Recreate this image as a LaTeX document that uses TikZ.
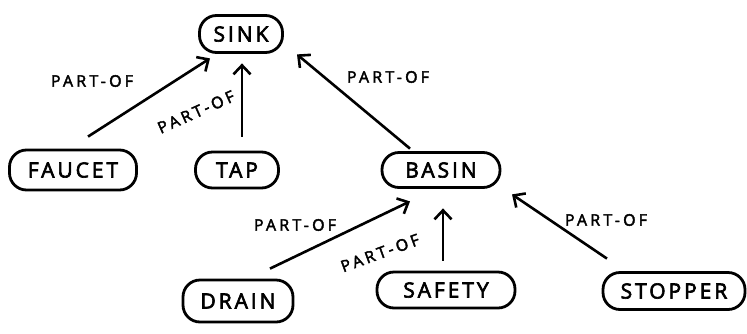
\documentclass[tikz,border=0pt]{standalone}
\usepackage{fontspec}
\setmainfont{Open Sans}
\usetikzlibrary{arrows.meta}
\newfontfamily\handfont[LetterSpace=14,FakeBold=3]{Open Sans}
\newfontfamily\labelfont[LetterSpace=20,FakeBold=2.5]{Open Sans}
\begin{document}
\begin{tikzpicture}[x=1pt,y=-1pt,
  concept/.style={draw,line width=2.8pt,rounded corners=17pt,inner sep=0pt,
    font=\handfont\fontsize{21}{21}\selectfont},
  partof/.style={line width=2.6pt,-{Straight Barb[length=9pt,width=17pt,line width=2.6pt]}},
  rel/.style={font=\labelfont\fontsize{16}{16}\selectfont,inner sep=0pt}]
\useasboundingbox (0,0) rectangle (747,333);

% concept nodes
\node[concept,minimum width=83pt,minimum height=37pt] (sink) at (241,34) {SINK};
\node[concept,minimum width=127pt,minimum height=40pt] (faucet) at (73,170) {FAUCET};
\node[concept,minimum width=83pt,minimum height=36pt] (tap) at (237,170) {TAP};
\node[concept,minimum width=118pt,minimum height=35pt] (basin) at (441,170) {BASIN};
\node[concept,minimum width=110pt,minimum height=42pt] (drain) at (238,301) {DRAIN};
\node[concept,minimum width=138pt,minimum height=36pt] (safety) at (446,290) {SAFETY};
\node[concept,minimum width=142pt,minimum height=37pt] (stopper) at (674,291) {STOPPER};

% part-of links
\draw[partof] ([xshift=15pt,yshift=12pt]faucet.north) -- ([xshift=-31pt,yshift=-4.5pt]sink.south);
\draw[partof] ([xshift=5pt,yshift=14pt]tap.north) -- ([xshift=1pt,yshift=-9.5pt]sink.south);
\draw[partof] ([xshift=-31pt,yshift=2.5pt]basin.north) -- ([xshift=56pt,yshift=-0.5pt]sink.south);
\draw[partof] ([xshift=32pt,yshift=10pt]drain.north) -- ([xshift=-31pt,yshift=-12.5pt]basin.south);
\draw[partof] ([xshift=-3pt,yshift=10pt]safety.north) -- ([xshift=2pt,yshift=-19.5pt]basin.south);
\draw[partof] ([xshift=-67pt,yshift=12.5pt]stopper.north) -- ([xshift=71pt,yshift=-5.5pt]basin.south);

% link labels
\node[rel] (l1) at (92,81) {PART-OF};
\node[rel,rotate=24] (l2) at (196,112) {PART-OF};
\node[rel] (l3) at (388,77) {PART-OF};
\node[rel] (l4) at (295,225) {PART-OF};
\node[rel,rotate=20] (l5) at (380,253) {PART-OF};
\node[rel] (l6) at (606,220) {PART-OF};
\end{tikzpicture}
\end{document}
